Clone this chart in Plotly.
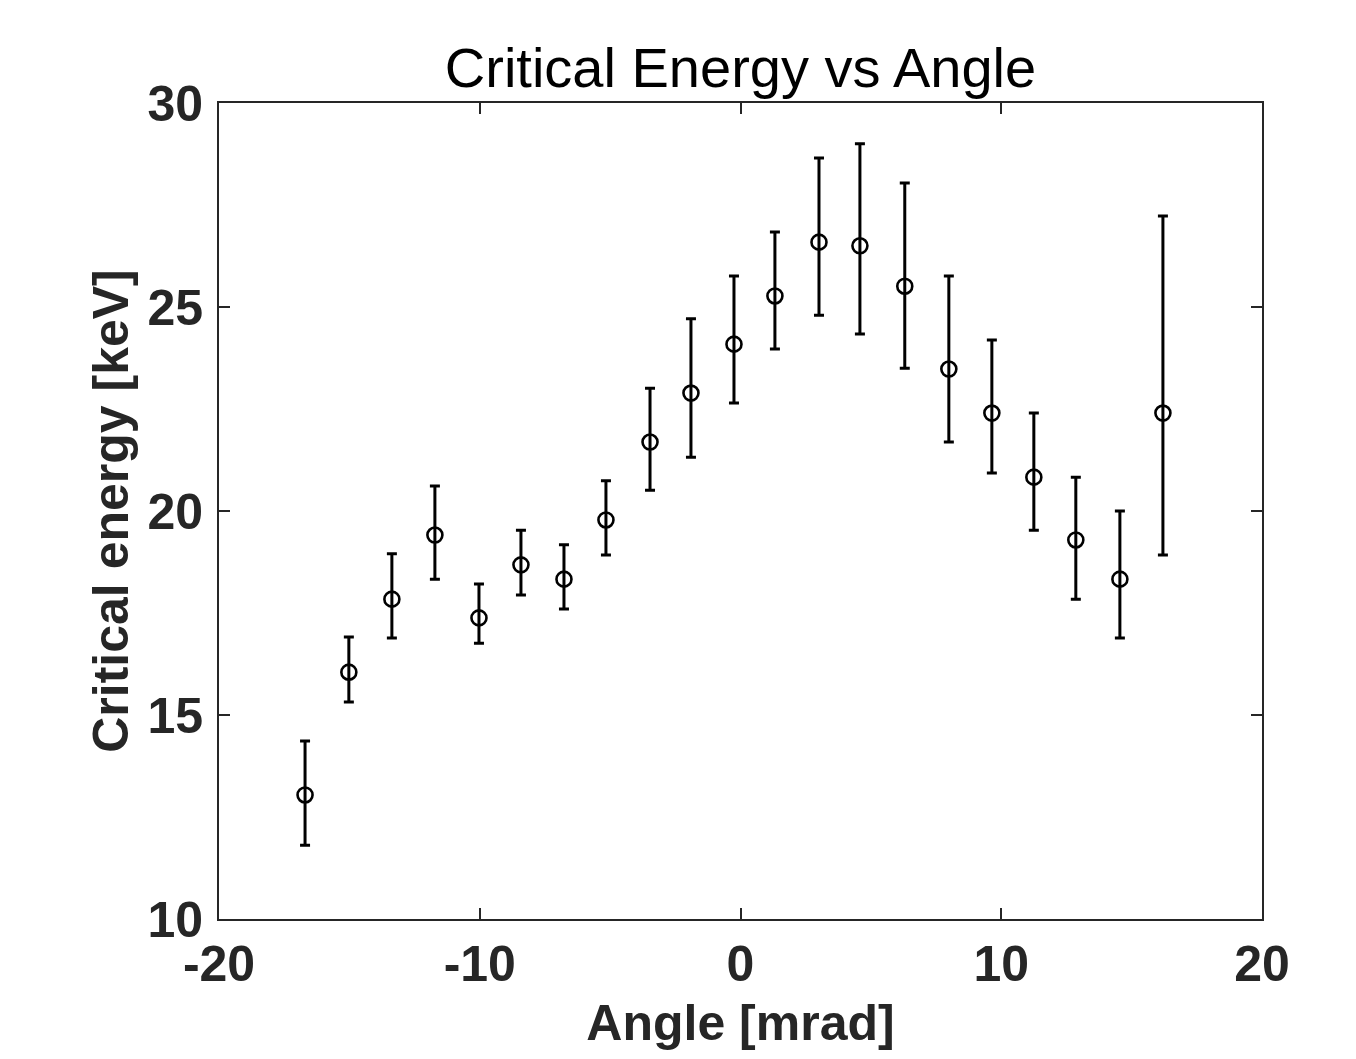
import plotly.graph_objects as go

angle = [-16.70, -15.02, -13.37, -11.72, -10.03, -8.42, -6.77, -5.16, -3.47, -1.90,
         -0.25, 1.32, 3.01, 4.58, 6.30, 7.99, 9.64, 11.25, 12.86, 14.55, 16.20]
energy = [13.04, 16.05, 17.84, 19.41, 17.38, 18.68, 18.33, 19.78, 21.69, 22.89,
          24.09, 25.27, 26.59, 26.50, 25.51, 23.48, 22.40, 20.83, 19.29, 18.33, 22.40]
upper = [14.36, 16.91, 18.95, 20.61, 18.21, 19.53, 19.17, 20.74, 23.01, 24.71,
         25.76, 26.84, 28.65, 29.00, 28.04, 25.76, 24.19, 22.40, 20.83, 20.00, 27.23]
lower = [11.81, 15.32, 16.89, 18.33, 16.76, 17.94, 17.60, 18.92, 20.51, 21.32,
         22.65, 23.97, 24.80, 24.34, 23.50, 21.69, 20.93, 19.53, 17.84, 16.89, 18.92]
x_ticks = [-20, -10, 0, 10, 20]
x_ticktext = ["-20", "-10", "0", "10", "20"]
y_ticks = [10, 15, 20, 25, 30]

err_plus = [u - e for u, e in zip(upper, energy)]
err_minus = [e - l for e, l in zip(energy, lower)]

W, H = 1340, 1043

fig = go.Figure()
fig.add_trace(go.Scatter(
    x=angle, y=energy, mode="markers",
    marker=dict(symbol="circle-open", size=15, color="black", line=dict(width=2.6, color="black")),
    error_y=dict(type="data", symmetric=False, array=err_plus, arrayminus=err_minus,
                 color="black", thickness=3, width=5),
    showlegend=False,
))

font_family = "Liberation Sans, Arial, Helvetica, sans-serif"
axis_common = dict(
    showline=True, linecolor="#262626", linewidth=2, mirror="ticks",
    ticks="inside", ticklen=11, tickwidth=2, tickcolor="#262626",
    showgrid=False, zeroline=False, automargin=False,
    tickfont=dict(family=font_family, size=50, color="#262626", weight="bold"),
)

fig.update_layout(
    width=W, height=H,
    paper_bgcolor="white", plot_bgcolor="white",
    margin=dict(l=211, r=86, t=95, b=132),
    title=dict(text="Critical Energy vs Angle", x=0.5, xanchor="center", xref="paper",
               y=1 - 59 / H, yref="container", yanchor="middle",
               font=dict(family=font_family, size=56, color="black")),
    xaxis=dict(range=[-20, 20], tickvals=x_ticks, ticktext=x_ticktext, ticklabelstandoff=0,
               title=dict(text="Angle [mrad]", standoff=29,
                          font=dict(family=font_family, size=50, color="#262626", weight="bold")),
               **axis_common),
    yaxis=dict(range=[10, 30], tickvals=y_ticks, ticklabelstandoff=4,
               title=dict(text="Critical energy [keV]", standoff=3,
                          font=dict(family=font_family, size=50, color="#262626", weight="bold")),
               **axis_common),
)

fig.write_html("out.html")
